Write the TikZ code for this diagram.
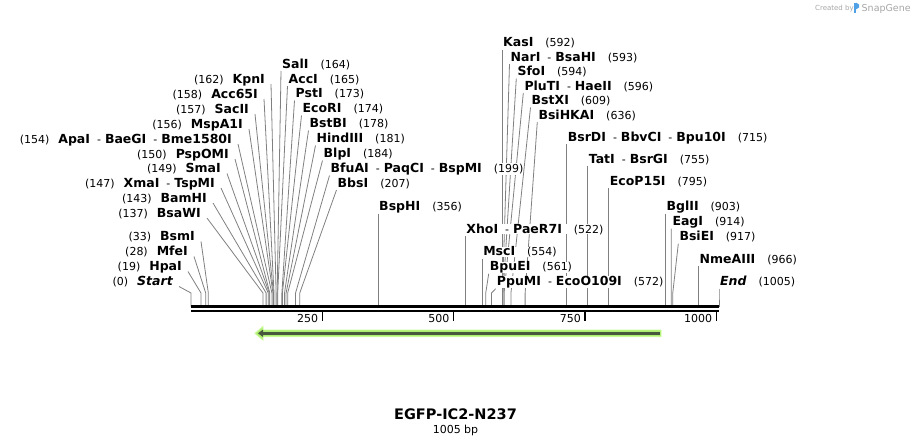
\documentclass[tikz,border=0pt]{standalone}
\usepackage{fontspec}
\setmainfont{DejaVu Sans}
\usetikzlibrary{arrows.meta,backgrounds}

\definecolor{featgreen}{RGB}{172,238,112}
\definecolor{featlight}{RGB}{200,250,150}
\definecolor{featdark}{RGB}{72,88,60}
\definecolor{snapblue}{RGB}{80,160,230}

% position of a base pair on the map
\newcommand{\bpx}[1]{191+0.52537*#1}
\newcommand{\enz}[1]{{\fontsize{12.5}{14}\selectfont\bfseries #1}}
\newcommand{\also}{\hspace{7pt}{\fontsize{11}{12}\selectfont -}\hspace{4pt}}
\newcommand{\posr}[1]{\hspace{12pt}{\fontsize{11}{12}\selectfont (#1)}}
\newcommand{\posl}[1]{{\fontsize{11}{12}\selectfont (#1)}\hspace{9pt}}

\tikzset {
    site left/.style={
        anchor=base east,
        inner sep=0pt,
        fill=white,
    },
    site right/.style={
        anchor=base west,
        inner sep=0pt,
        fill=white,
    },
    leader/.style={
        draw=black!50,
        line width=0.8pt,
    },
    ruler tick/.style={
        line width=1.6pt,
    },
    ruler label/.style={
        anchor=base east,
        inner sep=0pt,
        font=\fontsize{11}{12}\selectfont,
    },
    credit/.style={
        anchor=base west,
        inner sep=0pt,
        text=black!35,
    },
}

\begin{document}
\begin{tikzpicture}[x=1pt, y=-1pt]
\useasboundingbox (0,0) rectangle (911,445);

% backbone
\coordinate (seqL) at (191,306.5);
\coordinate (seqR) at (719,306.5);
\coordinate (seqL2) at (191,311);
\coordinate (seqR2) at (719,311);
\draw[line width=3pt] (seqL) -- (seqR);
\draw[line width=2.3pt] (seqL2) -- (seqR2);

% ruler
\coordinate (t250) at ({\bpx{250}},312);
\coordinate (t500) at ({\bpx{500}},312);
\coordinate (t750) at ({\bpx{750}},312);
\coordinate (t1000) at ({\bpx{1000}},312);
\draw[ruler tick] (t250) -- ++(0,9);
\draw[ruler tick] (t500) -- ++(0,9);
\draw[ruler tick] (t750) -- ++(0,9);
\draw[ruler tick] (t1000) -- ++(0,9);
\node[ruler label] (l250) at ({\bpx{250}-4},322.5) {250};
\node[ruler label] (l500) at ({\bpx{500}-4},322.5) {500};
\node[ruler label] (l750) at ({\bpx{750}-4},322.5) {750};
\node[ruler label] (l1000) at ({\bpx{1000}-4},322.5) {1000};

% EGFP feature
\coordinate (egfpR) at (660,333.3);
\coordinate (egfpL) at (258,333.3);
\filldraw[fill=featgreen, draw=featlight, line width=0.8pt]
    (661,330) -- (263,330) -- (263,326.5) -- (255,333.3) -- (263,340.1) -- (263,336.6) -- (661,336.6) -- cycle;
\draw[featdark, line width=2.8pt, -{Triangle[length=5pt,width=7pt]}] (egfpR) -- (egfpL);

% sites, left side
\node[site left] (kpn) at (265,83) {\posl{162}\enz{KpnI}};
\node[site left] (acc65) at (258,98) {\posl{158}\enz{Acc65I}};
\node[site left] (sac2) at (249,113) {\posl{157}\enz{SacII}};
\node[site left] (mspa1) at (243,128) {\posl{156}\enz{MspA1I}};
\node[site left] (apa) at (232,143) {\posl{154}\enz{ApaI}\also\enz{BaeGI}\also\enz{Bme1580I}};
\node[site left] (pspom) at (229,158) {\posl{150}\enz{PspOMI}};
\node[site left] (sma) at (221,172.5) {\posl{149}\enz{SmaI}};
\node[site left] (xma) at (215,187) {\posl{147}\enz{XmaI}\also\enz{TspMI}};
\node[site left] (bamh) at (207,202) {\posl{143}\enz{BamHI}};
\node[site left] (bsaw) at (201,217) {\posl{137}\enz{BsaWI}};
\node[site left] (bsm) at (195,240.5) {\posl{33}\enz{BsmI}};
\node[site left] (mfe) at (188,255.5) {\posl{28}\enz{MfeI}};
\node[site left] (hpa) at (182,270.5) {\posl{19}\enz{HpaI}};
\node[site left] (start) at (173,285.5) {\posl{0}\enz{\itshape Start}};

% sites, right side
\node[site right] (sal) at (282,68) {\enz{SalI}\posr{164}};
\node[site right] (acc) at (288.5,83) {\enz{AccI}\posr{165}};
\node[site right] (pst) at (295.5,97.5) {\enz{PstI}\posr{173}};
\node[site right] (ecor) at (302.5,112.5) {\enz{EcoRI}\posr{174}};
\node[site right] (bstb) at (309.5,127.5) {\enz{BstBI}\posr{178}};
\node[site right] (hind3) at (316.5,142.5) {\enz{HindIII}\posr{181}};
\node[site right] (blp) at (323.5,157.5) {\enz{BlpI}\posr{184}};
\node[site right] (bfua) at (330.5,172.5) {\enz{BfuAI}\also\enz{PaqCI}\also\enz{BspMI}\posr{199}};
\node[site right] (bbs) at (337.5,187) {\enz{BbsI}\posr{207}};
\node[site right] (bsph) at ({\bpx{356}+1},210.7) {\enz{BspHI}\posr{356}};
\node[site right] (xho) at ({\bpx{522}+1},233) {\enz{XhoI}\also\enz{PaeR7I}\posr{522}};
\node[site right] (msc) at ({\bpx{554}+1},255.7) {\enz{MscI}\posr{554}};
\node[site right] (bpue) at (489.7,270.7) {\enz{BpuEI}\posr{561}};
\node[site right] (ppum) at (496.7,285.7) {\enz{PpuMI}\also\enz{EcoO109I}\posr{572}};
\node[site right] (kas) at ({\bpx{592}+1},46.5) {\enz{KasI}\posr{592}};
\node[site right] (nar) at (510.5,61) {\enz{NarI}\also\enz{BsaHI}\posr{593}};
\node[site right] (sfo) at (517.3,75.5) {\enz{SfoI}\posr{594}};
\node[site right] (plut) at (524.3,90) {\enz{PluTI}\also\enz{HaeII}\posr{596}};
\node[site right] (bstx) at (531.5,104.5) {\enz{BstXI}\posr{609}};
\node[site right] (bsihka) at (538.3,119) {\enz{BsiHKAI}\posr{636}};
\node[site right] (bsrd) at ({\bpx{715}+1},141) {\enz{BsrDI}\also\enz{BbvCI}\also\enz{Bpu10I}\posr{715}};
\node[site right] (tat) at ({\bpx{755}+1},163) {\enz{TatI}\also\enz{BsrGI}\posr{755}};
\node[site right] (ecop15) at ({\bpx{795}+1},185) {\enz{EcoP15I}\posr{795}};
\node[site right] (bgl2) at ({\bpx{903}+1},210.7) {\enz{BglII}\posr{903}};
\node[site right] (eag) at (672.3,225.7) {\enz{EagI}\posr{914}};
\node[site right] (bsie) at (679.3,240.7) {\enz{BsiEI}\posr{917}};
\node[site right] (nmea3) at ({\bpx{966}+1},263.3) {\enz{NmeAIII}\posr{966}};
\node[site right] (seqend) at ({\bpx{1005}+1},285.7) {\enz{\itshape End}\posr{1005}};

% where the leaders meet the map
\coordinate (kpnC) at ({\bpx{162}},293);
\coordinate (acc65C) at ({\bpx{158}},293);
\coordinate (sac2C) at ({\bpx{157}},293);
\coordinate (mspa1C) at ({\bpx{156}},293);
\coordinate (apaC) at ({\bpx{154}},293);
\coordinate (pspomC) at ({\bpx{150}},293);
\coordinate (smaC) at ({\bpx{149}},293);
\coordinate (xmaC) at ({\bpx{147}},293);
\coordinate (bamhC) at ({\bpx{143}},293);
\coordinate (bsawC) at ({\bpx{137}},293);
\coordinate (bsmC) at ({\bpx{33}},293);
\coordinate (mfeC) at ({\bpx{28}},293);
\coordinate (hpaC) at ({\bpx{19}},293);
\coordinate (startC) at ({\bpx{0}},293);
\coordinate (salC) at ({\bpx{164}},293);
\coordinate (accC) at ({\bpx{165}},293);
\coordinate (pstC) at ({\bpx{173}},293);
\coordinate (ecorC) at ({\bpx{174}},293);
\coordinate (bstbC) at ({\bpx{178}},293);
\coordinate (hind3C) at ({\bpx{181}},293);
\coordinate (blpC) at ({\bpx{184}},293);
\coordinate (bfuaC) at ({\bpx{199}},293);
\coordinate (bbsC) at ({\bpx{207}},293);
\coordinate (bsphC) at ({\bpx{356}},293);
\coordinate (xhoC) at ({\bpx{522}},293);
\coordinate (mscC) at ({\bpx{554}},293);
\coordinate (bpueC) at ({\bpx{561}},293);
\coordinate (ppumC) at ({\bpx{572}},293);
\coordinate (kasC) at ({\bpx{592}},293);
\coordinate (narC) at ({\bpx{593}},293);
\coordinate (sfoC) at ({\bpx{594}},293);
\coordinate (plutC) at ({\bpx{596}},293);
\coordinate (bstxC) at ({\bpx{609}},293);
\coordinate (bsihkaC) at ({\bpx{636}},293);
\coordinate (bsrdC) at ({\bpx{715}},293);
\coordinate (tatC) at ({\bpx{755}},293);
\coordinate (ecop15C) at ({\bpx{795}},293);
\coordinate (bgl2C) at ({\bpx{903}},293);
\coordinate (eagC) at ({\bpx{914}},293);
\coordinate (bsieC) at ({\bpx{917}},293);
\coordinate (nmea3C) at ({\bpx{966}},293);
\coordinate (seqendC) at ({\bpx{1005}},293);

\begin{pgfonlayer}{background}
\draw[leader] ([xshift=6pt,yshift=-1pt]kpn.base east) -- (kpnC) -- (kpnC |- seqL);
\draw[leader] ([xshift=6pt,yshift=-1pt]acc65.base east) -- (acc65C) -- (acc65C |- seqL);
\draw[leader] ([xshift=6pt,yshift=-1pt]sac2.base east) -- (sac2C) -- (sac2C |- seqL);
\draw[leader] ([xshift=6pt,yshift=-1pt]mspa1.base east) -- (mspa1C) -- (mspa1C |- seqL);
\draw[leader] ([xshift=6pt,yshift=-1pt]apa.base east) -- (apaC) -- (apaC |- seqL);
\draw[leader] ([xshift=6pt,yshift=-1pt]pspom.base east) -- (pspomC) -- (pspomC |- seqL);
\draw[leader] ([xshift=6pt,yshift=-1pt]sma.base east) -- (smaC) -- (smaC |- seqL);
\draw[leader] ([xshift=6pt,yshift=-1pt]xma.base east) -- (xmaC) -- (xmaC |- seqL);
\draw[leader] ([xshift=6pt,yshift=-1pt]bamh.base east) -- (bamhC) -- (bamhC |- seqL);
\draw[leader] ([xshift=6pt,yshift=-1pt]bsaw.base east) -- (bsawC) -- (bsawC |- seqL);
\draw[leader] ([xshift=6pt,yshift=-1pt]bsm.base east) -- (bsmC) -- (bsmC |- seqL);
\draw[leader] ([xshift=6pt,yshift=-1pt]mfe.base east) -- (mfeC) -- (mfeC |- seqL);
\draw[leader] ([xshift=6pt,yshift=-1pt]hpa.base east) -- (hpaC) -- (hpaC |- seqL);
\draw[leader] ([xshift=6pt,yshift=-1pt]start.base east) -- (startC) -- (startC |- seqL);
\draw[leader] ([xshift=-1pt,yshift=-3pt]sal.base west) -- (salC) -- (salC |- seqL);
\draw[leader] ([xshift=-1pt,yshift=-3pt]acc.base west) -- (accC) -- (accC |- seqL);
\draw[leader] ([xshift=-1pt,yshift=-3pt]pst.base west) -- (pstC) -- (pstC |- seqL);
\draw[leader] ([xshift=-1pt,yshift=-3pt]ecor.base west) -- (ecorC) -- (ecorC |- seqL);
\draw[leader] ([xshift=-1pt,yshift=-3pt]bstb.base west) -- (bstbC) -- (bstbC |- seqL);
\draw[leader] ([xshift=-1pt,yshift=-3pt]hind3.base west) -- (hind3C) -- (hind3C |- seqL);
\draw[leader] ([xshift=-1pt,yshift=-3pt]blp.base west) -- (blpC) -- (blpC |- seqL);
\draw[leader] ([xshift=-1pt,yshift=-3pt]bfua.base west) -- (bfuaC) -- (bfuaC |- seqL);
\draw[leader] ([xshift=-1pt,yshift=-3pt]bbs.base west) -- (bbsC) -- (bbsC |- seqL);
\draw[leader] ([xshift=-1pt,yshift=-3pt]bsph.base west) -- (bsphC) -- (bsphC |- seqL);
\draw[leader] ([xshift=-1pt,yshift=-3pt]xho.base west) -- (xhoC) -- (xhoC |- seqL);
\draw[leader] ([xshift=-1pt,yshift=-3pt]msc.base west) -- (mscC) -- (mscC |- seqL);
\draw[leader] ([xshift=-1pt,yshift=-3pt]bpue.base west) -- (bpueC) -- (bpueC |- seqL);
\draw[leader] ([xshift=-1pt,yshift=-3pt]ppum.base west) -- (ppumC) -- (ppumC |- seqL);
\draw[leader] ([xshift=-1pt,yshift=-3pt]kas.base west) -- (kasC) -- (kasC |- seqL);
\draw[leader] ([xshift=-1pt,yshift=-3pt]nar.base west) -- (narC) -- (narC |- seqL);
\draw[leader] ([xshift=-1pt,yshift=-3pt]sfo.base west) -- (sfoC) -- (sfoC |- seqL);
\draw[leader] ([xshift=-1pt,yshift=-3pt]plut.base west) -- (plutC) -- (plutC |- seqL);
\draw[leader] ([xshift=-1pt,yshift=-3pt]bstx.base west) -- (bstxC) -- (bstxC |- seqL);
\draw[leader] ([xshift=-1pt,yshift=-3pt]bsihka.base west) -- (bsihkaC) -- (bsihkaC |- seqL);
\draw[leader] ([xshift=-1pt,yshift=-3pt]bsrd.base west) -- (bsrdC) -- (bsrdC |- seqL);
\draw[leader] ([xshift=-1pt,yshift=-3pt]tat.base west) -- (tatC) -- (tatC |- seqL);
\draw[leader] ([xshift=-1pt,yshift=-3pt]ecop15.base west) -- (ecop15C) -- (ecop15C |- seqL);
\draw[leader] ([xshift=-1pt,yshift=-3pt]bgl2.base west) -- (bgl2C) -- (bgl2C |- seqL);
\draw[leader] ([xshift=-1pt,yshift=-3pt]eag.base west) -- (eagC) -- (eagC |- seqL);
\draw[leader] ([xshift=-1pt,yshift=-3pt]bsie.base west) -- (bsieC) -- (bsieC |- seqL);
\draw[leader] ([xshift=-1pt,yshift=-3pt]nmea3.base west) -- (nmea3C) -- (nmea3C |- seqL);
\draw[leader] ([xshift=-1pt,yshift=-3pt]seqend.base west) -- (seqendC) -- (seqendC |- seqL);
\end{pgfonlayer}

% title
\node[anchor=base, font=\fontsize{14.5}{16}\selectfont\bfseries] (title) at (455.5,419) {EGFP-IC2-N237};
\node[anchor=base, font=\fontsize{11}{12}\selectfont] (length) at (455.5,433) {1005 bp};

% credit
\node[credit, font=\fontsize{7}{8}\selectfont] (created) at (815,10.5) {Created by};
\node[credit, font=\fontsize{9.5}{10}\selectfont] (snapgene) at (861.5,11) {SnapGene};
\fill[snapblue] (853.5,2.5) rectangle (855.8,13);
\fill[snapblue] (855.8,2.5) -- (859,4.5) -- (859,7.5) -- (855.8,9.5) -- cycle;
\end{tikzpicture}
\end{document}
